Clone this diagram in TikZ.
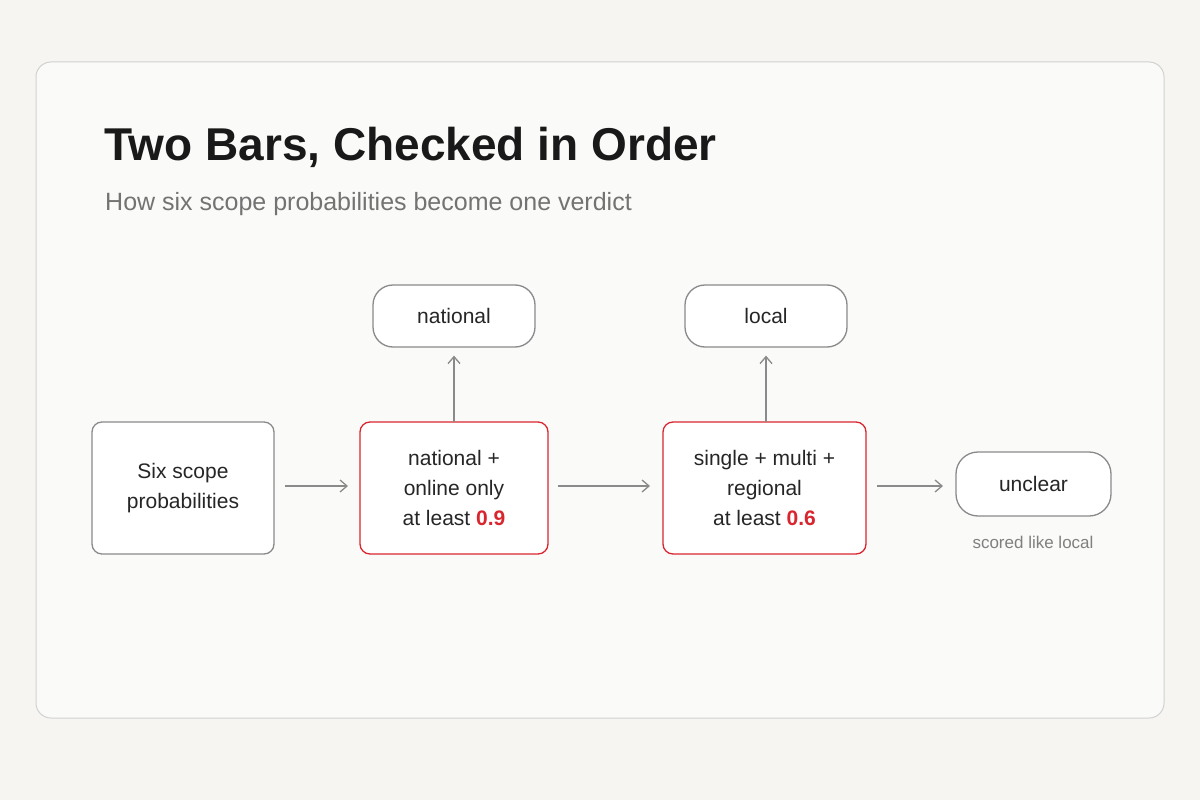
\documentclass[tikz,border=0pt]{standalone}
\usepackage{fontspec}
\setmainfont{Liberation Sans}
\usetikzlibrary{arrows.meta}
\definecolor{bg}{HTML}{F6F5F2}
\definecolor{panel}{HTML}{FAFAF8}
\definecolor{edge}{HTML}{8A8A8A}
\definecolor{accent}{HTML}{D9262E}
\begin{document}
\begin{tikzpicture}[x=1pt,y=-1pt,
 box/.style={draw=edge,line width=1.3pt,rounded corners=10pt,fill=white,align=center,font=\fontsize{21}{30}\selectfont,text=black!85},
 redbox/.style={box,draw=accent},
 pill/.style={box,rounded corners=20pt},
 arr/.style={-{Straight Barb[length=7pt,width=12pt]},draw=edge,line width=1.3pt}]
\useasboundingbox (0,0) rectangle (1200,800);
\fill[bg] (0,0) rectangle (1200,800);
\draw[draw=black!18,fill=panel,line width=1pt,rounded corners=15pt] (36,62) rectangle (1164,718);
\node[anchor=base west,inner sep=0,font=\bfseries\fontsize{46}{50}\selectfont,text=black!90] (title) at (104,160) {Two Bars, Checked in Order};
\node[anchor=base west,inner sep=0,font=\fontsize{25}{30}\selectfont,text=black!55] (sub) at (105,210) {How six scope probabilities become one verdict};
\node[box,minimum width=182pt,minimum height=132pt] (six) at (183,488) {Six scope\\probabilities};
\node[redbox,minimum width=188pt,minimum height=132pt] (b1) at (454,488) {national +\\online only\\at least \textcolor{accent}{\bfseries 0.9}};
\node[redbox,minimum width=203pt,minimum height=132pt] (b2) at (764.5,488) {single + multi +\\regional\\at least \textcolor{accent}{\bfseries 0.6}};
\node[pill,minimum width=162pt,minimum height=62pt] (nat) at (454,316) {national};
\node[pill,minimum width=162pt,minimum height=62pt] (loc) at (766,316) {local};
\node[pill,rounded corners=22pt,minimum width=155pt,minimum height=64pt] (unc) at (1033.5,484) {unclear};
\node[inner sep=0,font=\fontsize{17}{20}\selectfont,text=black!50] (note) at (1033,542) {scored like local};
\coordinate (s1) at (285,486); \coordinate (e1) at (348,486);
\coordinate (s2) at (558,486); \coordinate (e2) at (650,486);
\coordinate (s3) at (877,486); \coordinate (e3) at (943,486);
\draw[arr] (s1) -- (e1);
\draw[arr] (s2) -- (e2);
\draw[arr] (s3) -- (e3);
\draw[arr] (454,422) -- ([yshift=-8pt]nat.south);
\draw[arr] (766,422) -- ([yshift=-8pt]loc.south);
\end{tikzpicture}
\end{document}
